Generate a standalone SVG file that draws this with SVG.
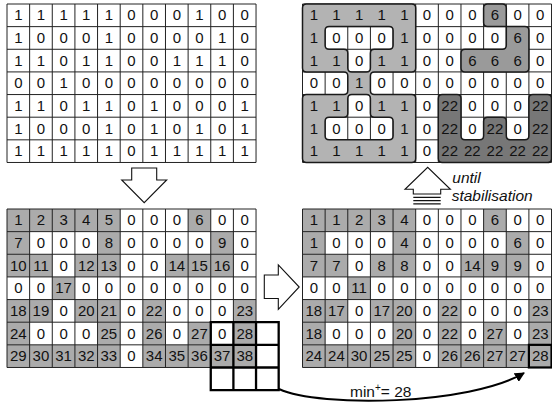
<svg xmlns="http://www.w3.org/2000/svg" xmlns:xlink="http://www.w3.org/1999/xlink" width="552" height="405" viewBox="0 0 552 405">
<style>
.t{font-family:"Liberation Sans",Arial,sans-serif;font-size:15px;text-anchor:middle;fill:#111}
.lbl{font-family:"Liberation Sans",Arial,sans-serif;font-size:15.5px;fill:#111}
.it{font-style:italic}
.grid{fill:none;stroke:#222;stroke-width:1}
.g{fill:#ababab}
.reg{stroke:#1a1a1a;stroke-width:1.5;stroke-linejoin:round}
.arr{fill:#fff;stroke:#111;stroke-width:1.1;stroke-linejoin:miter}
.win{fill:none;stroke:#000;stroke-width:2.3}
</style>
<defs>
<path id="gl" d="M0,0H249.04M0,22.64H249.04M0,45.28H249.04M0,67.92H249.04M0,90.56H249.04M0,113.2H249.04M0,135.84H249.04M0,158.48H249.04M0,0V158.48M22.64,0V158.48M45.28,0V158.48M67.92,0V158.48M90.56,0V158.48M113.2,0V158.48M135.84,0V158.48M158.48,0V158.48M181.12,0V158.48M203.76,0V158.48M226.4,0V158.48M249.04,0V158.48"/>
<g id="gray">
<rect class="g" x="0" y="0" width="113.2" height="22.64"/><rect class="g" x="181.12" y="0" width="22.64" height="22.64"/>
<rect class="g" x="0" y="22.64" width="22.64" height="22.64"/><rect class="g" x="90.56" y="22.64" width="22.64" height="22.64"/><rect class="g" x="203.76" y="22.64" width="22.64" height="22.64"/>
<rect class="g" x="0" y="45.28" width="45.28" height="22.64"/><rect class="g" x="67.92" y="45.28" width="45.28" height="22.64"/><rect class="g" x="158.48" y="45.28" width="67.92" height="22.64"/>
<rect class="g" x="45.28" y="67.92" width="22.64" height="22.64"/>
<rect class="g" x="0" y="90.56" width="45.28" height="22.64"/><rect class="g" x="67.92" y="90.56" width="45.28" height="22.64"/><rect class="g" x="135.84" y="90.56" width="22.64" height="22.64"/><rect class="g" x="226.4" y="90.56" width="22.64" height="22.64"/>
<rect class="g" x="0" y="113.2" width="22.64" height="22.64"/><rect class="g" x="90.56" y="113.2" width="22.64" height="22.64"/><rect class="g" x="135.84" y="113.2" width="22.64" height="22.64"/><rect class="g" x="181.12" y="113.2" width="22.64" height="22.64"/><rect class="g" x="226.4" y="113.2" width="22.64" height="22.64"/>
<rect class="g" x="0" y="135.84" width="113.2" height="22.64"/><rect class="g" x="135.84" y="135.84" width="113.2" height="22.64"/>
</g>
<marker id="ah" viewBox="0 0 10 10" refX="9" refY="5" markerWidth="5" markerHeight="5" orient="auto" markerUnits="strokeWidth">
<path d="M0,0L10,5L0,10Z" fill="#000"/>
</marker>
</defs>

<g id="grid-binary" transform="translate(7,4)">
<rect x="0" y="0" width="249.04" height="158.48" fill="#fff"/>
<use href="#gl" class="grid"/>
<text class="t" x="11.32 33.96 56.6 79.24 101.88 124.52 147.16 169.8 192.44 215.08 237.72" y="16.3">11111000100</text>
<text class="t" x="11.32 33.96 56.6 79.24 101.88 124.52 147.16 169.8 192.44 215.08 237.72" y="38.94">10001000010</text>
<text class="t" x="11.32 33.96 56.6 79.24 101.88 124.52 147.16 169.8 192.44 215.08 237.72" y="61.58">11011001110</text>
<text class="t" x="11.32 33.96 56.6 79.24 101.88 124.52 147.16 169.8 192.44 215.08 237.72" y="84.22">00100000000</text>
<text class="t" x="11.32 33.96 56.6 79.24 101.88 124.52 147.16 169.8 192.44 215.08 237.72" y="106.86">11011010001</text>
<text class="t" x="11.32 33.96 56.6 79.24 101.88 124.52 147.16 169.8 192.44 215.08 237.72" y="129.5">10001010101</text>
<text class="t" x="11.32 33.96 56.6 79.24 101.88 124.52 147.16 169.8 192.44 215.08 237.72" y="152.14">11111011111</text>
</g>

<g id="grid-result">
<rect x="302.5" y="4" width="249.04" height="158.48" fill="#fff"/>
<use href="#gl" class="grid" transform="translate(302.5,4)"/>
<path class="reg" fill="#b3b3b3" fill-rule="evenodd" d="M302.5,8Q302.5,4 306.5,4L411.7,4Q415.7,4 415.7,8L415.7,67.9Q415.7,71.9 411.7,71.9L374.4,71.9Q370.4,71.9 370.4,75.9L370.4,90.6Q370.4,94.6 374.4,94.6L411.7,94.6Q415.7,94.6 415.7,98.6L415.7,158.5Q415.7,162.5 411.7,162.5L306.5,162.5Q302.5,162.5 302.5,158.5L302.5,98.6Q302.5,94.6 306.5,94.6L343.8,94.6Q347.8,94.6 347.8,90.6L347.8,75.9Q347.8,71.9 343.8,71.9L306.5,71.9Q302.5,71.9 302.5,67.9Z
M325.1,30.6Q325.1,26.6 329.1,26.6L389.1,26.6Q393.1,26.6 393.1,30.6L393.1,45.3Q393.1,49.3 389.1,49.3L374.4,49.3Q370.4,49.3 370.4,53.3L370.4,67.9Q370.4,71.9 366.4,71.9L351.8,71.9Q347.8,71.9 347.8,67.9L347.8,53.3Q347.8,49.3 343.8,49.3L329.1,49.3Q325.1,49.3 325.1,45.3Z
M347.8,98.6Q347.8,94.6 351.8,94.6L366.4,94.6Q370.4,94.6 370.4,98.6L370.4,113.2Q370.4,117.2 374.4,117.2L389.1,117.2Q393.1,117.2 393.1,121.2L393.1,135.8Q393.1,139.8 389.1,139.8L329.1,139.8Q325.1,139.8 325.1,135.8L325.1,121.2Q325.1,117.2 329.1,117.2L343.8,117.2Q347.8,117.2 347.8,113.2Z"/>
<path class="reg" fill="#9a9a9a" d="M483.6,8Q483.6,4 487.6,4L502.3,4Q506.3,4 506.3,8L506.3,26.6L524.9,26.6Q528.9,26.6 528.9,30.6L528.9,67.9Q528.9,71.9 524.9,71.9L465,71.9Q461,71.9 461,67.9L461,53.3Q461,49.3 465,49.3L502.3,49.3Q506.3,49.3 506.3,45.3L506.3,26.6L487.6,26.6Q483.6,26.6 483.6,22.6Z"/>
<path class="reg" fill="#777" d="M438.3,98.6Q438.3,94.6 442.3,94.6L457,94.6Q461,94.6 461,98.6L461,135.8Q461,139.8 465,139.8L479.6,139.8Q483.6,139.8 483.6,135.8L483.6,121.2Q483.6,117.2 487.6,117.2L502.3,117.2Q506.3,117.2 506.3,121.2L506.3,135.8Q506.3,139.8 510.3,139.8L524.9,139.8Q528.9,139.8 528.9,135.8L528.9,98.6Q528.9,94.6 532.9,94.6L547.5,94.6Q551.5,94.6 551.5,98.6L551.5,158.5Q551.5,162.5 547.5,162.5L442.3,162.5Q438.3,162.5 438.3,158.5Z"/>
<g transform="translate(302.5,4)">
<text class="t" x="11.32 33.96 56.6 79.24 101.88 124.52 147.16 169.8 192.44 215.08 237.72" y="16.3">11111000600</text>
<text class="t" x="11.32 33.96 56.6 79.24 101.88 124.52 147.16 169.8 192.44 215.08 237.72" y="38.94">10001000060</text>
<text class="t" x="11.32 33.96 56.6 79.24 101.88 124.52 147.16 169.8 192.44 215.08 237.72" y="61.58">11011006660</text>
<text class="t" x="11.32 33.96 56.6 79.24 101.88 124.52 147.16 169.8 192.44 215.08 237.72" y="84.22">00100000000</text>
<text class="t" y="106.86"><tspan x="11.32">1</tspan><tspan x="33.96">1</tspan><tspan x="56.6">0</tspan><tspan x="79.24">1</tspan><tspan x="101.88">1</tspan><tspan x="124.52">0</tspan><tspan x="147.16">22</tspan><tspan x="169.8">0</tspan><tspan x="192.44">0</tspan><tspan x="215.08">0</tspan><tspan x="237.72">22</tspan></text>
<text class="t" y="129.5"><tspan x="11.32">1</tspan><tspan x="33.96">0</tspan><tspan x="56.6">0</tspan><tspan x="79.24">0</tspan><tspan x="101.88">1</tspan><tspan x="124.52">0</tspan><tspan x="147.16">22</tspan><tspan x="169.8">0</tspan><tspan x="192.44">22</tspan><tspan x="215.08">0</tspan><tspan x="237.72">22</tspan></text>
<text class="t" y="152.14"><tspan x="11.32">1</tspan><tspan x="33.96">1</tspan><tspan x="56.6">1</tspan><tspan x="79.24">1</tspan><tspan x="101.88">1</tspan><tspan x="124.52">0</tspan><tspan x="147.16">22</tspan><tspan x="169.8">22</tspan><tspan x="192.44">22</tspan><tspan x="215.08">22</tspan><tspan x="237.72">22</tspan></text>
</g>
</g>

<g id="grid-initial-labels" transform="translate(7,209)">
<rect x="0" y="0" width="249.04" height="158.48" fill="#fff"/>
<use href="#gray"/>
<use href="#gl" class="grid"/>
<text class="t" y="16.3"><tspan x="11.32">1</tspan><tspan x="33.96">2</tspan><tspan x="56.6">3</tspan><tspan x="79.24">4</tspan><tspan x="101.88">5</tspan><tspan x="124.52">0</tspan><tspan x="147.16">0</tspan><tspan x="169.8">0</tspan><tspan x="192.44">6</tspan><tspan x="215.08">0</tspan><tspan x="237.72">0</tspan></text>
<text class="t" y="38.94"><tspan x="11.32">7</tspan><tspan x="33.96">0</tspan><tspan x="56.6">0</tspan><tspan x="79.24">0</tspan><tspan x="101.88">8</tspan><tspan x="124.52">0</tspan><tspan x="147.16">0</tspan><tspan x="169.8">0</tspan><tspan x="192.44">0</tspan><tspan x="215.08">9</tspan><tspan x="237.72">0</tspan></text>
<text class="t" y="61.58"><tspan x="11.32">10</tspan><tspan x="33.96">11</tspan><tspan x="56.6">0</tspan><tspan x="79.24">12</tspan><tspan x="101.88">13</tspan><tspan x="124.52">0</tspan><tspan x="147.16">0</tspan><tspan x="169.8">14</tspan><tspan x="192.44">15</tspan><tspan x="215.08">16</tspan><tspan x="237.72">0</tspan></text>
<text class="t" y="84.22"><tspan x="11.32">0</tspan><tspan x="33.96">0</tspan><tspan x="56.6">17</tspan><tspan x="79.24">0</tspan><tspan x="101.88">0</tspan><tspan x="124.52">0</tspan><tspan x="147.16">0</tspan><tspan x="169.8">0</tspan><tspan x="192.44">0</tspan><tspan x="215.08">0</tspan><tspan x="237.72">0</tspan></text>
<text class="t" y="106.86"><tspan x="11.32">18</tspan><tspan x="33.96">19</tspan><tspan x="56.6">0</tspan><tspan x="79.24">20</tspan><tspan x="101.88">21</tspan><tspan x="124.52">0</tspan><tspan x="147.16">22</tspan><tspan x="169.8">0</tspan><tspan x="192.44">0</tspan><tspan x="215.08">0</tspan><tspan x="237.72">23</tspan></text>
<text class="t" y="129.5"><tspan x="11.32">24</tspan><tspan x="33.96">0</tspan><tspan x="56.6">0</tspan><tspan x="79.24">0</tspan><tspan x="101.88">25</tspan><tspan x="124.52">0</tspan><tspan x="147.16">26</tspan><tspan x="169.8">0</tspan><tspan x="192.44">27</tspan><tspan x="215.08">0</tspan><tspan x="237.72">28</tspan></text>
<text class="t" y="152.14"><tspan x="11.32">29</tspan><tspan x="33.96">30</tspan><tspan x="56.6">31</tspan><tspan x="79.24">32</tspan><tspan x="101.88">33</tspan><tspan x="124.52">0</tspan><tspan x="147.16">34</tspan><tspan x="169.8">35</tspan><tspan x="192.44">36</tspan><tspan x="215.08">37</tspan><tspan x="237.72">38</tspan></text>
<g id="window">
<rect x="249.04" y="113.2" width="22.64" height="45.28" fill="#fff"/>
<rect x="203.76" y="158.48" width="67.92" height="22.64" fill="#fff"/>
<path class="win" d="M203.76,113.2H271.68V181.12H203.76ZM203.76,135.84H271.68M203.76,158.48H271.68M226.4,113.2V181.12M249.04,113.2V181.12"/>
</g>
</g>

<g id="grid-propagated" transform="translate(302.5,209)">
<rect x="0" y="0" width="249.04" height="158.48" fill="#fff"/>
<use href="#gray"/>
<use href="#gl" class="grid"/>
<text class="t" y="16.3"><tspan x="11.32">1</tspan><tspan x="33.96">1</tspan><tspan x="56.6">2</tspan><tspan x="79.24">3</tspan><tspan x="101.88">4</tspan><tspan x="124.52">0</tspan><tspan x="147.16">0</tspan><tspan x="169.8">0</tspan><tspan x="192.44">6</tspan><tspan x="215.08">0</tspan><tspan x="237.72">0</tspan></text>
<text class="t" y="38.94"><tspan x="11.32">1</tspan><tspan x="33.96">0</tspan><tspan x="56.6">0</tspan><tspan x="79.24">0</tspan><tspan x="101.88">4</tspan><tspan x="124.52">0</tspan><tspan x="147.16">0</tspan><tspan x="169.8">0</tspan><tspan x="192.44">0</tspan><tspan x="215.08">6</tspan><tspan x="237.72">0</tspan></text>
<text class="t" y="61.58"><tspan x="11.32">7</tspan><tspan x="33.96">7</tspan><tspan x="56.6">0</tspan><tspan x="79.24">8</tspan><tspan x="101.88">8</tspan><tspan x="124.52">0</tspan><tspan x="147.16">0</tspan><tspan x="169.8">14</tspan><tspan x="192.44">9</tspan><tspan x="215.08">9</tspan><tspan x="237.72">0</tspan></text>
<text class="t" y="84.22"><tspan x="11.32">0</tspan><tspan x="33.96">0</tspan><tspan x="56.6">11</tspan><tspan x="79.24">0</tspan><tspan x="101.88">0</tspan><tspan x="124.52">0</tspan><tspan x="147.16">0</tspan><tspan x="169.8">0</tspan><tspan x="192.44">0</tspan><tspan x="215.08">0</tspan><tspan x="237.72">0</tspan></text>
<text class="t" y="106.86"><tspan x="11.32">18</tspan><tspan x="33.96">17</tspan><tspan x="56.6">0</tspan><tspan x="79.24">17</tspan><tspan x="101.88">20</tspan><tspan x="124.52">0</tspan><tspan x="147.16">22</tspan><tspan x="169.8">0</tspan><tspan x="192.44">0</tspan><tspan x="215.08">0</tspan><tspan x="237.72">23</tspan></text>
<text class="t" y="129.5"><tspan x="11.32">18</tspan><tspan x="33.96">0</tspan><tspan x="56.6">0</tspan><tspan x="79.24">0</tspan><tspan x="101.88">20</tspan><tspan x="124.52">0</tspan><tspan x="147.16">22</tspan><tspan x="169.8">0</tspan><tspan x="192.44">27</tspan><tspan x="215.08">0</tspan><tspan x="237.72">23</tspan></text>
<text class="t" y="152.14"><tspan x="11.32">24</tspan><tspan x="33.96">24</tspan><tspan x="56.6">30</tspan><tspan x="79.24">25</tspan><tspan x="101.88">25</tspan><tspan x="124.52">0</tspan><tspan x="147.16">26</tspan><tspan x="169.8">26</tspan><tspan x="192.44">27</tspan><tspan x="215.08">27</tspan><tspan x="237.72">28</tspan></text>
<rect x="226.4" y="135.84" width="22.64" height="22.64" fill="none" stroke="#000" stroke-width="2.2"/>
</g>

<g id="connectors">
<path class="arr" d="M131.7,168H156.7V180H166.7L144.2,202.7L121.7,180H131.7Z"/>
<path class="arr" d="M264.3,275H278.3V264.8L299.2,287L278.3,309.3V298.5H264.3Z"/>
<path class="arr" d="M413.3,194V189.3H405L427.7,167.3L450.4,189.3H440.7V194Z"/>
<path d="M413.3,197.3H440.7M413.3,200.6H440.7M413.3,203.9H440.7" stroke="#111" stroke-width="1.3" fill="none"/>
<path d="M279,389C320,408 470,405 524,373" fill="none" stroke="#000" stroke-width="2" marker-end="url(#ah)"/>
</g>

<g id="labels">
<text class="lbl it" x="452.3" y="183">until</text>
<text class="lbl it" x="451.7" y="200.5">stabilisation</text>
<text class="lbl" x="350" y="397.3">min<tspan font-size="10" dy="-6">+</tspan><tspan dy="6">= 28</tspan></text>
</g>
</svg>
